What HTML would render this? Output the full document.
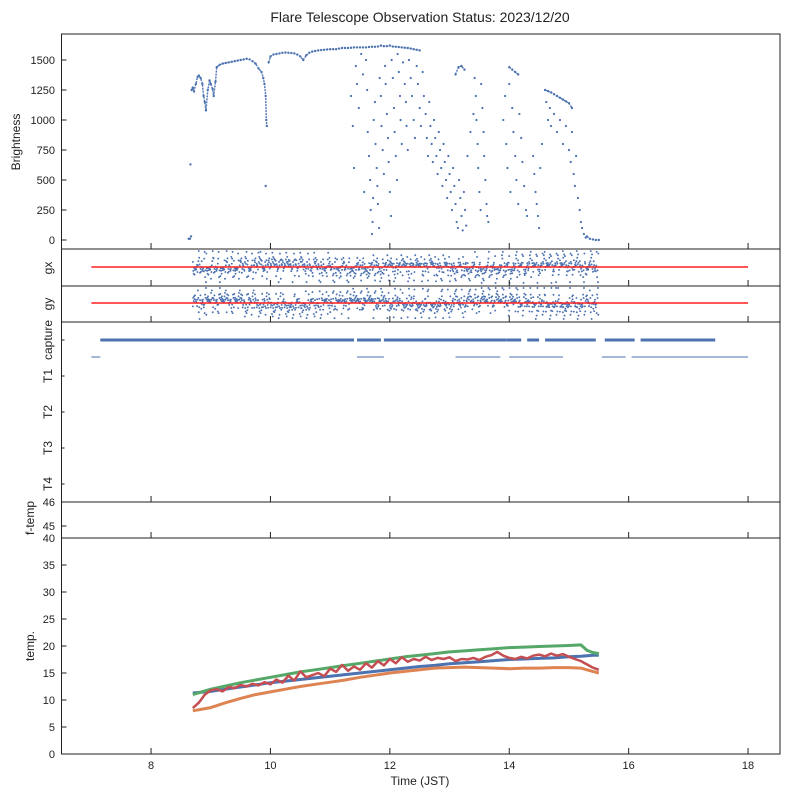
<!DOCTYPE html>
<html><head><meta charset="utf-8"><style>
html,body{margin:0;padding:0;background:#fff;}
svg{display:block;font-family:"Liberation Sans",Arial,sans-serif;}
</style></head><body>
<svg id="chart" width="789" height="798" viewBox="0 0 789 798" xmlns="http://www.w3.org/2000/svg">
<text x="420" y="22" font-size="14" text-anchor="middle" fill="#222">Flare Telescope Observation Status: 2023/12/20</text>
<g id="marks"></g>
<g id="axes"></g>
</svg>
<script>
// ---------- data ----------
const xTicks = [8, 10, 12, 14, 16, 18];
const brightTicks = [0, 250, 500, 750, 1000, 1250, 1500];
const tempTicks = [0, 5, 10, 15, 20, 25, 30, 35, 40];
const categories = ["capture", "T1", "T2", "T3", "T4"];

const envT = [8.63,8.65,8.67,8.66,8.68,8.7,8.72,8.75,8.78,8.8,8.83,8.86,8.88,8.9,8.92,8.95,8.98,9.0,9.03,9.05,9.08,9.1,9.15,9.2,9.25,9.3,9.35,9.4,9.45,9.5,9.55,9.6,9.65,9.7,9.75,9.8,9.85,9.88,9.9,9.92,9.93,9.94,9.92,9.97,10.0,10.05,10.1,10.15,10.2,10.25,10.3,10.35,10.4,10.45,10.5,10.55,10.6,10.65,10.7,10.75,10.8,10.85,10.9,10.95,11.0,11.05,11.1,11.15,11.2,11.25,11.3,11.35,11.4,11.45,11.5,11.55,11.6,11.65,11.7,11.75,11.8,11.85,11.9,11.95,12.0,12.05,12.1,12.15,12.2,12.25,12.3,12.35,12.4,12.45,12.5,13.1,13.15,13.2,13.25,14.0,14.05,14.1,14.15,14.6,14.65,14.7,14.75,14.8,14.85,14.9,14.95,15.0,15.05,15.3,15.35,15.4,15.45,15.5];
const envV = [10,10,30,630,1250,1270,1240,1300,1360,1370,1350,1300,1200,1150,1080,1250,1330,1300,1260,1200,1320,1440,1460,1470,1475,1480,1485,1490,1495,1500,1505,1510,1505,1490,1470,1430,1400,1350,1300,1200,1000,950,450,1480,1530,1545,1550,1555,1560,1562,1560,1558,1555,1545,1530,1500,1540,1560,1570,1575,1580,1583,1585,1588,1590,1590,1590,1595,1600,1600,1600,1602,1605,1605,1605,1605,1605,1608,1610,1610,1612,1620,1615,1615,1620,1612,1610,1608,1605,1602,1600,1595,1590,1585,1580,1380,1440,1450,1420,1440,1420,1400,1380,1250,1240,1230,1215,1200,1185,1170,1155,1140,1100,30,10,5,0,0];

const scatT = [11.35,11.38,11.4,11.43,11.45,11.48,11.52,11.55,11.57,11.6,11.62,11.63,11.65,11.67,11.68,11.7,11.71,11.72,11.73,11.75,11.76,11.78,11.79,11.8,11.82,11.83,11.85,11.86,11.88,11.9,11.92,11.93,11.95,11.97,11.98,12.0,12.02,12.03,12.05,12.07,12.08,12.1,12.12,12.13,12.15,12.17,12.18,12.2,12.22,12.25,12.27,12.28,12.3,12.32,12.35,12.37,12.4,12.42,12.45,12.47,12.5,12.52,12.55,12.57,12.6,12.62,12.64,12.66,12.68,12.7,12.72,12.74,12.76,12.78,12.8,12.82,12.84,12.86,12.88,12.9,12.92,12.94,12.96,12.98,13.0,13.02,13.04,13.06,13.08,13.1,13.12,13.14,13.16,13.18,13.2,13.22,13.24,13.26,13.28,13.3,13.35,13.4,13.42,13.44,13.45,13.47,13.48,13.5,13.52,13.53,13.55,13.57,13.58,13.6,13.62,13.63,13.65,13.9,13.93,13.95,13.97,14.0,14.02,14.05,14.07,14.1,14.12,14.15,14.17,14.2,14.22,14.25,14.28,14.3,14.4,14.42,14.44,14.46,14.48,14.5,14.52,14.55,14.62,14.65,14.68,14.7,14.75,14.8,14.85,14.9,14.95,15.0,15.03,15.05,15.08,15.1,15.12,15.15,15.18,15.2,15.22,15.25,15.28];
const scatV = [1200,950,600,1450,1300,1100,1550,1380,400,1500,1250,900,700,500,250,50,150,350,1000,1150,800,600,450,300,100,1350,1200,950,750,550,1450,1300,1050,850,650,400,200,1500,1350,1100,900,700,500,1550,1400,1200,1000,800,1480,1300,1150,950,750,1500,1350,1200,1000,850,1450,1300,1100,950,1400,1200,1050,850,700,1150,950,800,650,1000,850,700,550,900,750,600,450,800,650,500,350,700,550,400,250,600,450,300,150,100,500,350,200,80,400,250,120,700,900,1050,1350,1200,1000,800,600,400,250,1300,1100,900,700,500,300,200,150,1000,1200,800,600,1300,400,1100,900,700,500,300,1050,850,650,450,250,200,700,550,400,300,200,100,600,800,1150,1000,1100,950,1050,900,1000,800,950,750,650,900,550,450,700,350,250,150,100,50,20];

const gxVals = [0.3,-0.5,0.8,0.1,-0.9,0.4,-0.2,0.7,-0.6,0.0,0.9,-0.3,0.5,-0.8,0.2,-0.1,0.6,-0.7,0.3,-0.4,0.85,-0.15,0.45,-0.95,0.05,0.65,-0.55,0.25,-0.35,0.75,-0.05,0.15,-0.65,0.55,-0.25,0.95,-0.45,0.35,-0.85,0.1,0.2,-0.3,0.6,-0.7,0.0,0.4,-0.5,0.8,-0.2,0.1,-0.6,0.3,0.9,-0.9,0.5,-0.1,0.7,-0.4,0.2,-0.8];
const gyVals = [-0.2,0.6,-0.7,0.1,0.9,-0.4,0.3,-0.9,0.5,0.0,-0.6,0.8,-0.1,0.4,-0.5,0.7,-0.3,0.2,-0.8,0.55,-0.15,0.35,-0.65,0.95,0.05,-0.45,0.25,-0.75,0.65,-0.05,0.15,-0.95,0.45,-0.25,0.85,-0.55,0.1,0.3,-0.35,0.75,-0.85,0.2,-0.1,0.6,-0.6,0.4,0.0,-0.3,0.8,-0.7,0.3,-0.2,0.5,-0.9,0.9,-0.4,0.1,0.7,-0.5,0.25];
const gStart = 8.7, gEnd = 15.5;

const captureStart = [7.15, 11.45, 11.9, 13.95, 14.3, 14.6, 15.6, 16.2];
const captureEnd   = [11.4, 11.85, 13.95, 14.2, 14.5, 15.45, 16.1, 17.45];
const t1Start = [7.0, 11.45, 13.1, 14.0, 14.55, 15.55, 16.05];
const t1End   = [7.15, 11.9, 13.85, 14.55, 14.9, 15.95, 18.0];

const tempT = [8.7,9.0,9.25,9.5,9.75,10.0,10.25,10.5,10.75,11.0,11.25,11.5,11.75,12.0,12.25,12.5,12.75,13.0,13.25,13.5,13.75,14.0,14.25,14.5,14.75,15.0,15.2,15.3,15.4,15.5];
const tempGreen  = [11.0,12.0,12.6,13.2,13.7,14.2,14.7,15.2,15.6,16.0,16.4,16.8,17.2,17.6,18.0,18.3,18.6,18.9,19.1,19.3,19.5,19.7,19.8,19.9,20.0,20.1,20.2,19.2,18.8,18.6];
const tempBlue   = [11.3,11.6,12.0,12.4,12.8,13.2,13.5,13.8,14.1,14.4,14.7,15.0,15.3,15.6,15.9,16.2,16.4,16.7,16.9,17.1,17.3,17.5,17.6,17.7,17.8,18.0,18.1,18.2,18.3,18.3];
const tempOrange = [8.0,8.6,9.5,10.3,11.0,11.5,12.0,12.5,12.9,13.3,13.7,14.2,14.6,15.0,15.3,15.6,15.9,16.0,16.1,16.0,15.9,15.8,15.9,15.9,16.0,16.0,15.9,15.6,15.3,15.0];
// red sensor, sampled every 0.1 h from 8.7 h
const redStart = 8.7, redStep = 0.1;
const tempRed = [8.5,9.5,11.0,11.8,12.0,11.6,12.4,12.2,12.8,12.5,13.0,12.7,13.3,12.9,13.8,13.2,14.5,13.6,15.3,14.2,14.6,15.0,14.4,15.8,15.2,16.5,15.4,16.2,15.6,16.8,16.0,17.2,16.4,17.6,16.8,17.9,17.1,17.6,17.3,18.0,17.4,17.8,17.6,17.9,17.2,17.6,17.5,17.8,17.4,18.0,18.3,18.9,18.2,17.8,17.6,18.0,17.7,18.2,18.4,18.1,18.6,18.2,18.5,18.0,17.6,17.2,16.6,16.0,15.6];

// ---------- scales ----------
const PL = 61.5, PR = 780;
function xs(t){ return 61.5 + (t - 6.5) * 59.7; }
function yBright(v){ return 240 - v * 0.12; }
function yTemp(v){ return 754 - v * 5.4; }
function yGx(v){ return 267 - v * 16; }
function yGy(v){ return 303 - v * 16; }
const catY = [340, 357, 412, 448, 484];

const NS = "http://www.w3.org/2000/svg";
const marks = document.getElementById('marks');
const axes = document.getElementById('axes');
function mk(tag, attrs, parent){
  const e = document.createElementNS(NS, tag);
  for (const k in attrs) e.setAttribute(k, attrs[k]);
  parent.appendChild(e);
  return e;
}
const BLUE = "#4c72b0";

// brightness
const bg = mk('g', {}, marks);


let pts = [];
for (let i = 0; i < envT.length; i++) {
  if (i > 0 && (envT[i] - envT[i-1] > 0.12 || envT[i] < envT[i-1] || Math.abs(envV[i]-envV[i-1]) > 300)) {
    if (pts.length > 1) mk('polyline', {points: pts.join(' '), fill: 'none', stroke: BLUE, 'stroke-width': 1.4, 'stroke-dasharray': '2 1'}, bg);
    pts = [];
  }
  pts.push(xs(envT[i]).toFixed(1) + ',' + yBright(envV[i]).toFixed(1));
  const c = mk('circle', {cx: xs(envT[i]), cy: yBright(envV[i]), r: 1.2, fill: BLUE}, bg);
  
  
}
if (pts.length > 1) mk('polyline', {points: pts.join(' '), fill: 'none', stroke: BLUE, 'stroke-width': 1.4, 'stroke-dasharray': '2 1'}, bg);
for (let i = 0; i < scatT.length; i++) {
  const c = mk('circle', {cx: xs(scatT[i]), cy: yBright(scatV[i]), r: 1.1, fill: BLUE}, bg);
  
  
}

// gx / gy
function gPanel(vals, yf, name, top, bot) {
  const g = mk('g', {}, marks);
  
  
  const n = vals.length, phases = 16;
  const total = n * phases;
  for (let k = 0; k < phases; k++) {
    for (let i = 0; i < n; i++) {
      const idx = i * phases + k;
      const t = gStart + (gEnd - gStart) * (idx * 37 % total) / total;
      const v = vals[(i * 7 + k * 13) % n] * (k % 3 === 0 ? 1.05 : (k % 3 === 1 ? 0.6 : 0.3));
      const y = Math.max(top, Math.min(bot, yf(v)));
      const c = mk('circle', {cx: xs(t), cy: y, r: 0.95, fill: BLUE}, g);
      
      
    }
  }
}
gPanel(gxVals, yGx, 'gx-series', 251, 286);
gPanel(gyVals, yGy, 'gy-series', 288, 322);
const rx = mk('line', {x1: xs(7), x2: xs(18), y1: yGx(0), y2: yGx(0), stroke: '#ff1f1f', 'stroke-width': 1.6}, marks);


const ry = mk('line', {x1: xs(7), x2: xs(18), y1: yGy(0), y2: yGy(0), stroke: '#ff1f1f', 'stroke-width': 1.6}, marks);



// capture / T1
for (let i = 0; i < captureStart.length; i++) {
  const l = mk('line', {x1: xs(captureStart[i]), x2: xs(captureEnd[i]), y1: catY[0], y2: catY[0], stroke: BLUE, 'stroke-width': 3}, marks);
  
  
}
for (let i = 0; i < t1Start.length; i++) {
  const l = mk('line', {x1: xs(t1Start[i]), x2: xs(t1End[i]), y1: catY[1], y2: catY[1], stroke: BLUE, 'stroke-width': 1}, marks);
  
  
}

// temperatures
function tempLine(vals, color, name, w) {
  const p = tempT.map((t, i) => xs(t).toFixed(1) + ',' + yTemp(vals[i]).toFixed(1)).join(' ');
  const l = mk('polyline', {points: p, fill: 'none', stroke: color, 'stroke-width': w, 'stroke-linejoin': 'round'}, marks);
  
  
}
tempLine(tempBlue, BLUE, 'temp-series-blue', 3);
tempLine(tempOrange, '#dd8452', 'temp-series-orange', 3);
tempLine(tempGreen, '#55a868', 'temp-series-green', 3);
const redPts = tempRed.map((v, i) => xs(redStart + i * redStep).toFixed(1) + ',' + yTemp(v).toFixed(1)).join(' ');
const redLine = mk('polyline', {points: redPts, fill: 'none', stroke: '#c44e52', 'stroke-width': 2.5, 'stroke-linejoin': 'round'}, marks);



// ---------- axes ----------
const panels = [[34,249],[249,286],[286,322],[322,502],[502,538],[538,754]];
panels.forEach((p, i) => {
  const r = mk('rect', {x: PL, y: p[0], width: PR - PL, height: p[1] - p[0], fill: 'none', stroke: '#222', 'stroke-width': 1}, axes);
  
  
  xTicks.forEach(t => {
    mk('line', {x1: xs(t), x2: xs(t), y1: p[1], y2: p[1] - 6, stroke: '#222', 'stroke-width': 1}, axes);
  });
});
xTicks.forEach(t => {
  const tx = mk('text', {x: xs(t), y: 769, 'font-size': 11, 'text-anchor': 'middle', fill: '#222'}, axes);
  tx.textContent = t;
  
  
});
brightTicks.forEach(v => {
  mk('line', {x1: PL, x2: PL + 5, y1: yBright(v), y2: yBright(v), stroke: '#222'}, axes);
  const tx = mk('text', {x: 55, y: yBright(v) + 4, 'font-size': 11, 'text-anchor': 'end', fill: '#222'}, axes);
  tx.textContent = v;
  
  
});
tempTicks.forEach(v => {
  mk('line', {x1: PL, x2: PL + 5, y1: yTemp(v), y2: yTemp(v), stroke: '#222'}, axes);
  const tx = mk('text', {x: 55, y: yTemp(v) + 4, 'font-size': 11, 'text-anchor': 'end', fill: '#222'}, axes);
  tx.textContent = v;
  
  
});
[[46,502],[45,526]].forEach(a => {
  mk('line', {x1: PL, x2: PL + 5, y1: a[1], y2: a[1], stroke: '#222'}, axes);
  const tx = mk('text', {x: 55, y: a[1] + 4, 'font-size': 11, 'text-anchor': 'end', fill: '#222'}, axes);
  tx.textContent = a[0];
  
  
});
const catLabelY = [340, 376, 412, 448, 484];
categories.forEach((c, i) => {
  mk('line', {x1: PL, x2: PL + 3, y1: catLabelY[i], y2: catLabelY[i], stroke: '#222'}, axes);
  const tx = mk('text', {x: 0, y: 0, 'font-size': 12, 'text-anchor': 'middle', fill: '#222', transform: `translate(52,${catLabelY[i]}) rotate(-90)`}, axes);
  tx.textContent = c;
  
  
});
function ylab(txt, x, y, name) {
  const tx = mk('text', {x: 0, y: 0, 'font-size': 12, 'text-anchor': 'middle', fill: '#222', transform: `translate(${x},${y}) rotate(-90)`}, axes);
  tx.textContent = txt;
  
  
}
ylab('Brightness', 20, 142, 'brightness-axis-title');
ylab('gx', 52, 268, 'gx-axis-title');
ylab('gy', 52, 304, 'gy-axis-title');
ylab('f-temp', 34, 518, 'ftemp-axis-title');
ylab('temp.', 34, 646, 'temp-axis-title');
const xl = mk('text', {x: 420, y: 785, 'font-size': 12, 'text-anchor': 'middle', fill: '#222'}, axes);
xl.textContent = 'Time (JST)';


</script>
</body></html>
